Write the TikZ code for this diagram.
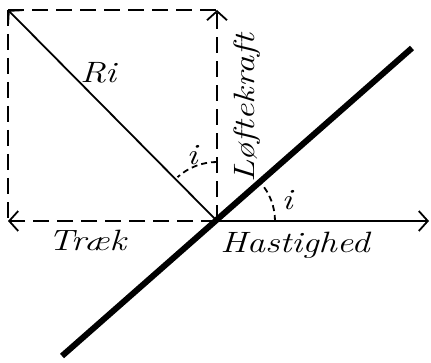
\documentclass[tikz,border=0pt]{standalone}
\usetikzlibrary{arrows.meta}
\newcommand\stretchtxt[1]{\scalebox{1.3}[1.05]{#1}}
\begin{document}
\begin{tikzpicture}[x=1pt,y=1pt,
  thin/.style={line width=1.8pt},
  dsh/.style={thin, dash pattern=on 16pt off 8pt},
  tip/.style={-{Straight Barb[length=9pt,width=20pt,line width=1.8pt]}},
  lab/.style={font=\fontsize{28}{30}\selectfont\itshape, inner sep=0pt}]
\useasboundingbox (0,0) rectangle (431,362);
\coordinate (O) at (217,141);
\coordinate (TL) at (8,352);
\coordinate (TR) at (217,352);
\coordinate (L) at (8,141);
\coordinate (R) at (429,141);
\coordinate (P1) at (62,6);
\coordinate (P2) at (412,314);
% dashed rectangle parts
\draw[dsh] (TL) -- (TR);
\draw[dsh] (TL) -- (L);
\draw[dsh,tip] (O) -- (L);
\draw[dsh,tip] (O) -- (TR);
% solid arrows
\draw[thin,tip] (O) -- (R);
\draw[thin,tip] (O) -- (TL);
% plate
\draw[line width=6pt] (P1) -- (P2);
% arcs
\draw[thin, dash pattern=on 6pt off 4pt] ([shift={(0:58)}]O) arc (0:41.6:58);
\draw[thin, dash pattern=on 6pt off 4pt] ([shift={(90:59)}]O) arc (90:132:59);
% labels
\node[lab] (ri) at (98,289) {\stretchtxt{Ri}};
\node[lab] (i1) at (192,207) {\stretchtxt{i}};
\node[lab] (i2) at (287,162) {\stretchtxt{i}};
\node[lab, rotate=90] (lk) at (247,254) {\stretchtxt{Løftekraft}};
\node[lab] (tr) at (87,122) {\stretchtxt{Træk}};
\node[lab] (ha) at (295,117) {\stretchtxt{Hastighed}};
\end{tikzpicture}
\end{document}
